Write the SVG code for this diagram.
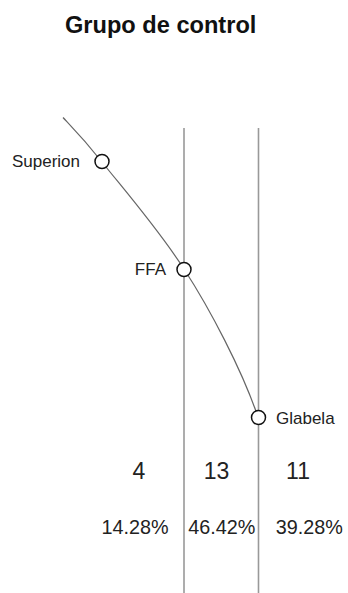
<svg xmlns="http://www.w3.org/2000/svg" width="348" height="593" viewBox="0 0 348 593">
<style>
.title{font-family:"Liberation Sans",Arial,sans-serif;font-weight:bold;font-size:23.6px;fill:#111}
.lbl{font-family:"Liberation Sans",Arial,sans-serif;font-size:17px;fill:#222}
.num{font-family:"Liberation Sans",Arial,sans-serif;font-size:23px;fill:#222;text-anchor:middle}
.pct{font-family:"Liberation Sans",Arial,sans-serif;font-size:19.8px;fill:#222;text-anchor:middle}
.vline{stroke:#999;stroke-width:1.6;fill:none}
.curve{stroke:#666;stroke-width:1.2;fill:none}
.node{fill:#fff;stroke:#111;stroke-width:1.5}
</style>
<rect width="348" height="593" fill="#fff"/>
<text class="title" x="65" y="33">Grupo de control</text>
<g id="connectors">
<line class="vline" x1="184" y1="128" x2="184" y2="593"/>
<line class="vline" x1="258.5" y1="128" x2="258.5" y2="593"/>
<path class="curve" d="M63,117.5 C69.5,124.5 81.8,136.5 102,162 C122.2,187.5 158,228.7 184,269 C210,309 242,370 258,417"/>
</g>
<g id="superion">
<circle class="node" cx="102" cy="161.5" r="7"/>
<text class="lbl" x="80" y="167" text-anchor="end">Superion</text>
</g>
<g id="ffa">
<circle class="node" cx="184" cy="269.5" r="7"/>
<text class="lbl" x="166" y="275" text-anchor="end">FFA</text>
</g>
<g id="glabela">
<circle class="node" cx="258.5" cy="417.5" r="7"/>
<text class="lbl" x="276" y="424">Glabela</text>
</g>
<g id="counts">
<text class="num" x="139" y="479">4</text>
<text class="num" x="216.5" y="479">13</text>
<text class="num" x="298" y="479">11</text>
</g>
<g id="percentages">
<text class="pct" x="135" y="534">14.28%</text>
<text class="pct" x="221.7" y="534">46.42%</text>
<text class="pct" x="309.3" y="534">39.28%</text>
</g>
</svg>
